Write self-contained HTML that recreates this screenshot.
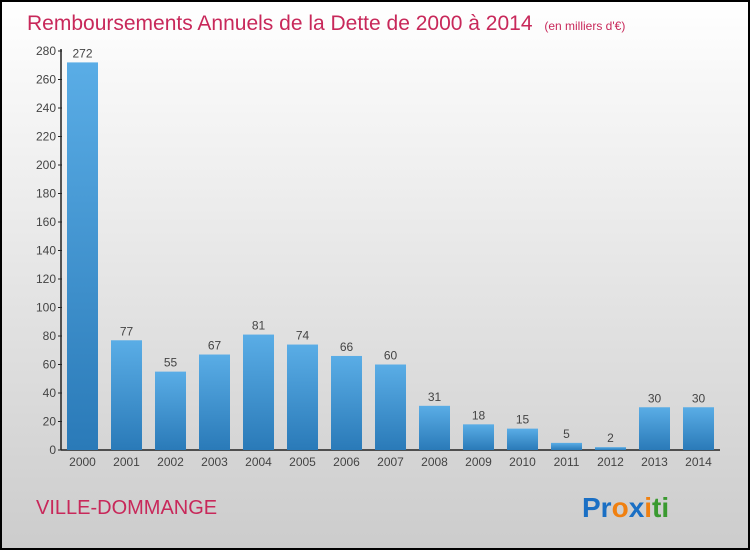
<!DOCTYPE html>
<html><head><meta charset="utf-8"><style>
body{margin:0;width:750px;height:550px;overflow:hidden}
svg{display:block}
text{font-family:"Liberation Sans",sans-serif}
</style></head><body>
<svg width="750" height="550" xmlns="http://www.w3.org/2000/svg">
<defs>
<linearGradient id="bg" x1="0" y1="0" x2="0" y2="1"><stop offset="0" stop-color="#ffffff"/><stop offset="1" stop-color="#cccccc"/></linearGradient>
<linearGradient id="bar" x1="0" y1="0" x2="0" y2="1"><stop offset="0" stop-color="#5aade6"/><stop offset="1" stop-color="#2a7ab8"/></linearGradient>
</defs>
<rect x="1" y="1" width="748" height="548" fill="url(#bg)" stroke="#000" stroke-width="2"/>
<text x="27" y="30" font-size="21" fill="#c8285a">Remboursements Annuels de la Dette de 2000 à 2014 <tspan font-size="12" dx="6">(en milliers d'€)</tspan></text>
<g id="axes"></g>
<g id="bars"></g>
<text x="36" y="514" font-size="20" fill="#c8285a">VILLE-DOMMANGE</text>
<text x="582" y="517" font-size="28" font-weight="bold"><tspan fill="#1a6fc4">Pr</tspan><tspan fill="#f08010">o</tspan><tspan fill="#1a6fc4">x</tspan><tspan fill="#f08010">i</tspan><tspan fill="#3a9a30">ti</tspan></text>
</svg>
<script>
const categories=["2000","2001","2002","2003","2004","2005","2006","2007","2008","2009","2010","2011","2012","2013","2014"];
const values=[272,77,55,67,81,74,66,60,31,18,15,5,2,30,30];
const yTicks=[0,20,40,60,80,100,120,140,160,180,200,220,240,260,280];
const NS="http://www.w3.org/2000/svg";
const y0=450,yTop=51,yMax=280,x0=67,step=44,bw=31;
const y=v=>y0-(v/yMax)*(y0-yTop);
const x=i=>x0+i*step;
function mk(tag,attrs,parent,txt){const e=document.createElementNS(NS,tag);for(const k in attrs)e.setAttribute(k,attrs[k]);if(txt!==undefined)e.textContent=txt;parent.appendChild(e);return e;}
const ax=document.getElementById('axes'),bg=document.getElementById('bars');
let l=mk('line',{x1:61,y1:yTop-2,x2:61,y2:y0,stroke:'#222','stroke-width':1.5},ax);


l=mk('line',{x1:61,y1:y0,x2:720,y2:y0,stroke:'#222','stroke-width':1.5},ax);


yTicks.forEach(t=>{
 let tk=mk('line',{x1:58,y1:y(t),x2:62,y2:y(t),stroke:'#222'},ax);
 
 
 let lb=mk('text',{x:56,y:y(t)+4,'font-size':12,fill:'#444','text-anchor':'end'},ax,t);
 
 
});
categories.forEach((c,i)=>{
 const v=values[i];
 let r=mk('rect',{x:x(i),y:y(v),width:bw,height:y0-y(v),fill:'url(#bar)'},bg);
 
 
 let vl=mk('text',{x:x(i)+bw/2,y:y(v)-5,'font-size':12,fill:'#444','text-anchor':'middle'},bg,v);
 
 
 let xl=mk('text',{x:x(i)+bw/2,y:466,'font-size':12,fill:'#444','text-anchor':'middle'},bg,c);
 
 
});
</script>
</body></html>
